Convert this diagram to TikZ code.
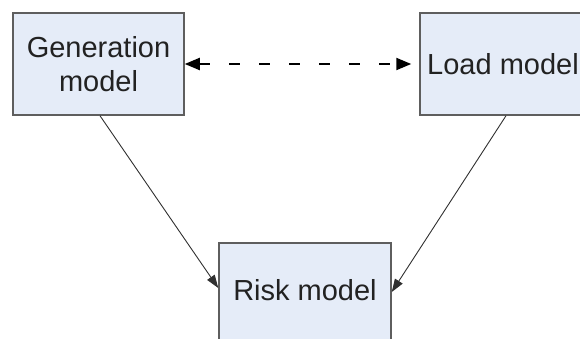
\documentclass[tikz,border=0pt]{standalone}
\usepackage{fontspec}
\setmainfont{Liberation Sans}
\usetikzlibrary{arrows.meta,calc}
\definecolor{boxfill}{HTML}{E5ECF8}
\definecolor{boxline}{HTML}{5E5E5E}
\definecolor{linkgray}{HTML}{303030}
\definecolor{labelgray}{HTML}{222222}
\tikzset{
  modelbox/.style={draw=boxline, line width=1.5pt, fill=boxfill, inner sep=0pt,
    text=labelgray, font=\fontsize{29}{34}\selectfont, align=center},
  flow/.style={draw=linkgray, line width=0.9pt, -{Triangle[length=13pt,width=9pt]}},
  exchange/.style={draw=black, line width=2pt, dash pattern=on 11pt off 19pt,
    {Triangle[length=15pt,width=12pt]}-{Triangle[length=15pt,width=12pt]}}
}
\begin{document}
\begin{tikzpicture}[x=1pt,y=-1pt]
  \useasboundingbox (0,0) rectangle (580,339);
  \clip (0,0) rectangle (580,339);
  \node[modelbox, minimum width=171pt, minimum height=102pt] (gen) at (98.5,64) {Generation\\model};
  \node[modelbox, minimum width=166pt, minimum height=102pt] (load) at (503,64) {Load model};
  \node[modelbox, minimum width=172pt, text height=57pt, text depth=50pt, anchor=base] (risk) at (305,300) {Risk model};
  \draw[exchange] (gen.east) -- ([xshift=-8pt]load.west);
  \draw[flow] ([xshift=1.5pt]gen.south) -- ([yshift=8.5pt]risk.west);
  \draw[flow] ([xshift=3pt]load.south) -- ([yshift=4.5pt]risk.east);
\end{tikzpicture}
\end{document}
